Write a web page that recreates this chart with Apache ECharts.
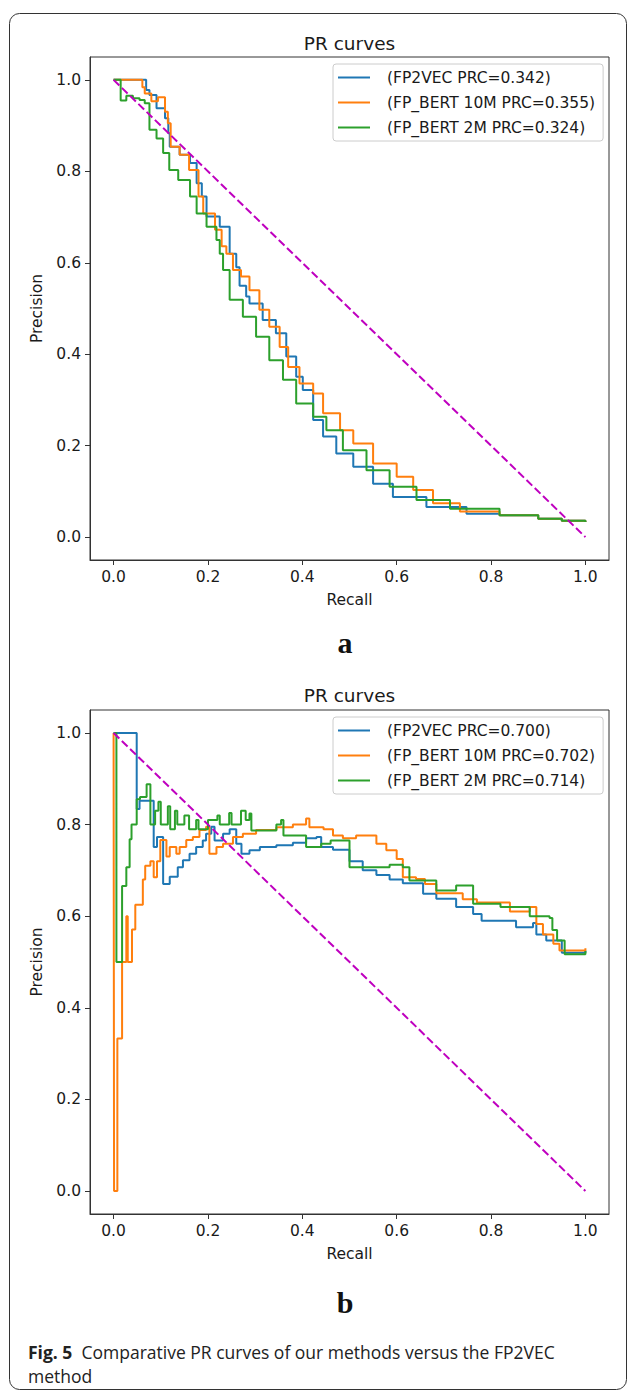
<!DOCTYPE html>
<html>
<head>
<meta charset="utf-8">
<script src="https://cdn.jsdelivr.net/npm/echarts@6/dist/echarts.min.js"></script>
<style>
html,body{margin:0;padding:0;background:#fff;}
#main{width:629px;height:1391px;}
</style>
</head>
<body>
<div id="main"></div>
<script>
// ---------- DATA ----------
const tickValues = [0, 0.2, 0.4, 0.6, 0.8, 1.0];

// Panel a
const aNames = ['(FP2VEC PRC=0.342)', '(FP_BERT 10M PRC=0.355)', '(FP_BERT 2M PRC=0.324)'];
const aBlueRecall = [0, 0.069, 0.076, 0.091, 0.109, 0.116, 0.119, 0.14, 0.162, 0.176, 0.187, 0.197, 0.225, 0.246, 0.26, 0.267, 0.281, 0.288, 0.316, 0.344, 0.366, 0.387, 0.401, 0.423, 0.444, 0.472, 0.508, 0.55, 0.592, 0.663, 0.748, 0.818, 0.9, 0.95, 1.0];
const aBluePrecision = [1.0, 0.978, 0.967, 0.938, 0.916, 0.883, 0.854, 0.836, 0.818, 0.774, 0.745, 0.701, 0.679, 0.62, 0.59, 0.55, 0.526, 0.511, 0.475, 0.446, 0.395, 0.351, 0.322, 0.256, 0.22, 0.183, 0.154, 0.117, 0.088, 0.066, 0.051, 0.048, 0.04, 0.036, 0.033];
const aOrangeRecall = [0, 0.061, 0.066, 0.08, 0.094, 0.109, 0.115, 0.121, 0.14, 0.16, 0.18, 0.19, 0.215, 0.229, 0.239, 0.253, 0.27, 0.288, 0.309, 0.33, 0.352, 0.37, 0.394, 0.423, 0.444, 0.48, 0.508, 0.55, 0.6, 0.635, 0.677, 0.734, 0.818, 0.9, 0.95, 1.0];
const aOrangePrecision = [1.0, 0.984, 0.97, 0.953, 0.962, 0.93, 0.905, 0.854, 0.836, 0.803, 0.745, 0.708, 0.672, 0.636, 0.62, 0.584, 0.57, 0.54, 0.497, 0.46, 0.416, 0.372, 0.336, 0.314, 0.271, 0.234, 0.205, 0.161, 0.132, 0.103, 0.074, 0.056, 0.048, 0.04, 0.036, 0.033];
const aGreenRecall = [0, 0.015, 0.027, 0.041, 0.055, 0.066, 0.076, 0.091, 0.105, 0.118, 0.137, 0.162, 0.176, 0.197, 0.218, 0.225, 0.232, 0.246, 0.274, 0.302, 0.33, 0.359, 0.387, 0.423, 0.451, 0.486, 0.536, 0.585, 0.642, 0.713, 0.818, 0.9, 0.95, 1.0];
const aGreenPrecision = [1.0, 0.955, 0.965, 0.96, 0.956, 0.949, 0.891, 0.872, 0.84, 0.803, 0.781, 0.745, 0.708, 0.679, 0.65, 0.62, 0.584, 0.519, 0.482, 0.438, 0.387, 0.344, 0.292, 0.263, 0.234, 0.19, 0.146, 0.11, 0.081, 0.062, 0.048, 0.04, 0.036, 0.033];

// Panel b
const bNames = ['(FP2VEC PRC=0.700)', '(FP_BERT 10M PRC=0.702)', '(FP_BERT 2M PRC=0.714)'];
const bBlueRecall = [0, 0.049, 0.055, 0.085, 0.092, 0.105, 0.119, 0.136, 0.147, 0.161, 0.175, 0.189, 0.196, 0.207, 0.214, 0.232, 0.246, 0.26, 0.271, 0.288, 0.31, 0.345, 0.38, 0.408, 0.43, 0.44, 0.465, 0.5, 0.528, 0.557, 0.585, 0.613, 0.656, 0.684, 0.726, 0.762, 0.78, 0.853, 0.889, 0.896, 0.917, 0.95, 1.0];
const bBluePrecision = [1.0, 0.834, 0.852, 0.751, 0.773, 0.67, 0.686, 0.707, 0.722, 0.736, 0.751, 0.765, 0.78, 0.795, 0.765, 0.78, 0.79, 0.758, 0.736, 0.744, 0.751, 0.755, 0.76, 0.77, 0.773, 0.751, 0.745, 0.72, 0.70, 0.69, 0.68, 0.672, 0.649, 0.638, 0.62, 0.605, 0.59, 0.576, 0.585, 0.56, 0.547, 0.52, 0.525];
const bOrangeRecall = [0, 0.001, 0.008, 0.018, 0.027, 0.03, 0.039, 0.046, 0.062, 0.067, 0.078, 0.085, 0.092, 0.099, 0.112, 0.119, 0.133, 0.14, 0.154, 0.168, 0.182, 0.196, 0.203, 0.218, 0.232, 0.253, 0.274, 0.302, 0.345, 0.38, 0.408, 0.415, 0.445, 0.465, 0.486, 0.514, 0.557, 0.578, 0.6, 0.613, 0.641, 0.66, 0.684, 0.74, 0.77, 0.84, 0.882, 0.896, 0.91, 0.932, 0.945, 1.0];
const bOrangePrecision = [1.0, 0.0, 0.333, 0.5, 0.6, 0.5, 0.571, 0.625, 0.68, 0.71, 0.72, 0.685, 0.72, 0.766, 0.73, 0.751, 0.736, 0.751, 0.766, 0.773, 0.788, 0.795, 0.736, 0.751, 0.758, 0.773, 0.78, 0.788, 0.794, 0.80, 0.813, 0.794, 0.79, 0.776, 0.77, 0.776, 0.758, 0.744, 0.725, 0.685, 0.681, 0.67, 0.65, 0.637, 0.63, 0.61, 0.62, 0.583, 0.56, 0.54, 0.525, 0.53];
const bGreenRecall = [0, 0.006, 0.018, 0.027, 0.034, 0.038, 0.049, 0.056, 0.07, 0.078, 0.088, 0.095, 0.1, 0.115, 0.12, 0.13, 0.135, 0.15, 0.16, 0.175, 0.18, 0.2, 0.22, 0.225, 0.245, 0.25, 0.27, 0.28, 0.288, 0.292, 0.345, 0.355, 0.36, 0.408, 0.44, 0.46, 0.5, 0.585, 0.613, 0.627, 0.684, 0.726, 0.762, 0.82, 0.882, 0.924, 0.93, 0.94, 0.956, 1.0];
const bGreenPrecision = [1.0, 0.5, 0.666, 0.707, 0.768, 0.8, 0.855, 0.86, 0.888, 0.80, 0.83, 0.85, 0.80, 0.84, 0.79, 0.83, 0.80, 0.82, 0.79, 0.81, 0.79, 0.81, 0.82, 0.80, 0.825, 0.80, 0.83, 0.81, 0.824, 0.787, 0.80, 0.81, 0.776, 0.751, 0.758, 0.765, 0.707, 0.712, 0.707, 0.678, 0.656, 0.667, 0.627, 0.62, 0.60, 0.596, 0.57, 0.547, 0.517, 0.524];

const diagRecall = [0, 1];
const diagPrecision = [1, 0];

// ---------- STYLE ----------
const colors = ['#1f77b4', '#ff7f0e', '#2ca02c'];
const diagColor = '#bf00bf';
const txt = '#1a1a1a';
const FONT = 'DejaVu Sans';
const FS = 15.5;

function zip(xs, ys) { return xs.map((x, i) => [x, ys[i]]); }

function axisPair(idx) {
  const common = {
    type: 'value', min: -0.05, max: 1.05, gridIndex: idx,
    splitLine: { show: false },
    axisLine: { show: true, onZero: false, lineStyle: { color: '#333', width: 1 } },
    axisTick: { show: true, length: 5, lineStyle: { color: '#333' }, customValues: tickValues },
    axisLabel: { customValues: tickValues, fontFamily: FONT, fontSize: FS, color: txt, margin: 9,
      formatter: v => v.toFixed(1) },
    nameTextStyle: { fontFamily: FONT, fontSize: FS, color: txt }
  };
  return {
    x: Object.assign({}, common, { name: 'Recall', nameLocation: 'middle', nameGap: 32 }),
    y: Object.assign({}, common, { name: 'Precision', nameLocation: 'middle', nameGap: 44, nameRotate: 90 })
  };
}

const ax0 = axisPair(0), ax1 = axisPair(1);

function stepSeries(name, xs, ys, color, idx) {
  return { type: 'line', name, data: zip(xs, ys), step: 'end', showSymbol: false, symbol: 'none',
    xAxisIndex: idx, yAxisIndex: idx, lineStyle: { color, width: 2 }, itemStyle: { color }, animation: false };
}
function diagSeries(idx) {
  return { type: 'line', name: 'diag' + idx, data: zip(diagRecall, diagPrecision), showSymbol: false, symbol: 'none',
    xAxisIndex: idx, yAxisIndex: idx, lineStyle: { color: diagColor, width: 2, type: [8, 3.5] }, animation: false };
}

function legendCfg(names, top) {
  return {
    data: names, orient: 'vertical', left: 333, top, icon: 'rect', itemWidth: 32, itemHeight: 2, itemGap: 8,
    padding: [5, 8, 5, 5], borderColor: '#cccccc', borderWidth: 1, borderRadius: 3,
    backgroundColor: 'rgba(255,255,255,0.8)', selectedMode: false,
    textStyle: { fontFamily: FONT, fontSize: FS, color: txt, padding: [0, 0, 0, 12], lineHeight: 17 }
  };
}

const chart = echarts.init(document.getElementById('main'), null, { renderer: 'svg' });
chart.setOption({
  animation: false,
  backgroundColor: '#fff',
  grid: [
    { left: 90, top: 57, width: 519, height: 503, show: true, borderColor: '#333', borderWidth: 1, backgroundColor: 'transparent' },
    { left: 90, top: 710, width: 519, height: 504, show: true, borderColor: '#333', borderWidth: 1, backgroundColor: 'transparent' }
  ],
  xAxis: [ax0.x, ax1.x],
  yAxis: [ax0.y, ax1.y],
  legend: [legendCfg(aNames, 64), legendCfg(bNames, 717)],
  series: [
    stepSeries(aNames[0], aBlueRecall, aBluePrecision, colors[0], 0),
    stepSeries(aNames[1], aOrangeRecall, aOrangePrecision, colors[1], 0),
    stepSeries(aNames[2], aGreenRecall, aGreenPrecision, colors[2], 0),
    diagSeries(0),
    stepSeries(bNames[0], bBlueRecall, bBluePrecision, colors[0], 1),
    stepSeries(bNames[1], bOrangeRecall, bOrangePrecision, colors[1], 1),
    stepSeries(bNames[2], bGreenRecall, bGreenPrecision, colors[2], 1),
    diagSeries(1)
  ],
  graphic: [
    { type: 'rect', silent: true, shape: { x: 9.5, y: 13.5, width: 617, height: 1376, r: 10 },
      style: { fill: 'none', stroke: '#333', lineWidth: 1 } },
    { type: 'text', x: 349.5, y: 43, style: { text: 'PR curves', fontFamily: FONT, fontSize: 18.5, fill: txt, align: 'center', verticalAlign: 'middle' } },
    { type: 'text', x: 349.5, y: 695, style: { text: 'PR curves', fontFamily: FONT, fontSize: 18.5, fill: txt, align: 'center', verticalAlign: 'middle' } },
    { type: 'text', x: 345, y: 642, style: { text: 'a', fontFamily: 'Liberation Serif', fontWeight: 'bold', fontSize: 30, fill: '#111', align: 'center', verticalAlign: 'middle' } },
    { type: 'text', x: 345, y: 1302, style: { text: 'b', fontFamily: 'Liberation Serif', fontWeight: 'bold', fontSize: 30, fill: '#111', align: 'center', verticalAlign: 'middle' } },
    { type: 'text', x: 28, y: 1340, style: {
        text: '{b|Fig. 5}  Comparative PR curves of our methods versus the FP2VEC\nmethod',
        fontFamily: 'Open Sans', fontSize: 17.5, fill: '#222', lineHeight: 24, verticalAlign: 'top',
        rich: { b: { fontFamily: 'Open Sans', fontWeight: 'bold', fontSize: 17.5, fill: '#222', lineHeight: 24 } }
      } }
  ]
});
</script>
</body>
</html>
